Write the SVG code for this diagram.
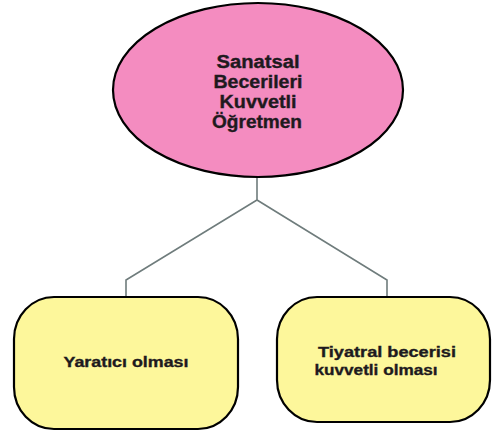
<svg xmlns="http://www.w3.org/2000/svg" width="492" height="434" viewBox="0 0 492 434">
  <style>
    .node-shape { stroke: #000; stroke-width: 2.2; }
    .root { fill: #f48cc0; }
    .leaf { fill: #fdf79b; }
    .label { font-family: "Liberation Sans", Arial, sans-serif; font-weight: bold; fill: #1e1a1e; stroke: #1e1a1e; stroke-width: 0.35; text-anchor: middle; }
    .edge { fill: none; stroke: #6f7c7c; stroke-width: 1.6; }
  </style>
  <rect width="492" height="434" fill="#fff"/>

  <g id="connectors">
    <polyline class="edge" points="257,176 257,200 126,280 126,297"/>
    <polyline class="edge" points="257,200 387,280 387,297"/>
  </g>

  <g id="root-node">
    <ellipse class="node-shape root" cx="258" cy="90" rx="145" ry="87"/>
    <text class="label" font-size="17.5" x="258" y="68" textLength="83" lengthAdjust="spacingAndGlyphs">Sanatsal</text>
    <text class="label" font-size="17.5" x="258" y="88" textLength="89" lengthAdjust="spacingAndGlyphs">Becerileri</text>
    <text class="label" font-size="17.5" x="258" y="108" textLength="77" lengthAdjust="spacingAndGlyphs">Kuvvetli</text>
    <text class="label" font-size="17.5" x="257" y="128" textLength="90" lengthAdjust="spacingAndGlyphs">Öğretmen</text>
  </g>

  <g id="node-yaratici">
    <rect class="node-shape leaf" x="14" y="297" width="224" height="132" rx="40" ry="42"/>
    <text class="label" font-size="14.5" x="126" y="367" textLength="125" lengthAdjust="spacingAndGlyphs">Yaratıcı olması</text>
  </g>

  <g id="node-tiyatral">
    <rect class="node-shape leaf" x="277" y="297" width="213" height="125" rx="40" ry="42"/>
    <text class="label" font-size="14.5" x="387" y="357" textLength="138" lengthAdjust="spacingAndGlyphs">Tiyatral becerisi</text>
    <text class="label" font-size="14.5" x="376" y="375" textLength="123" lengthAdjust="spacingAndGlyphs">kuvvetli olması</text>
  </g>
</svg>
